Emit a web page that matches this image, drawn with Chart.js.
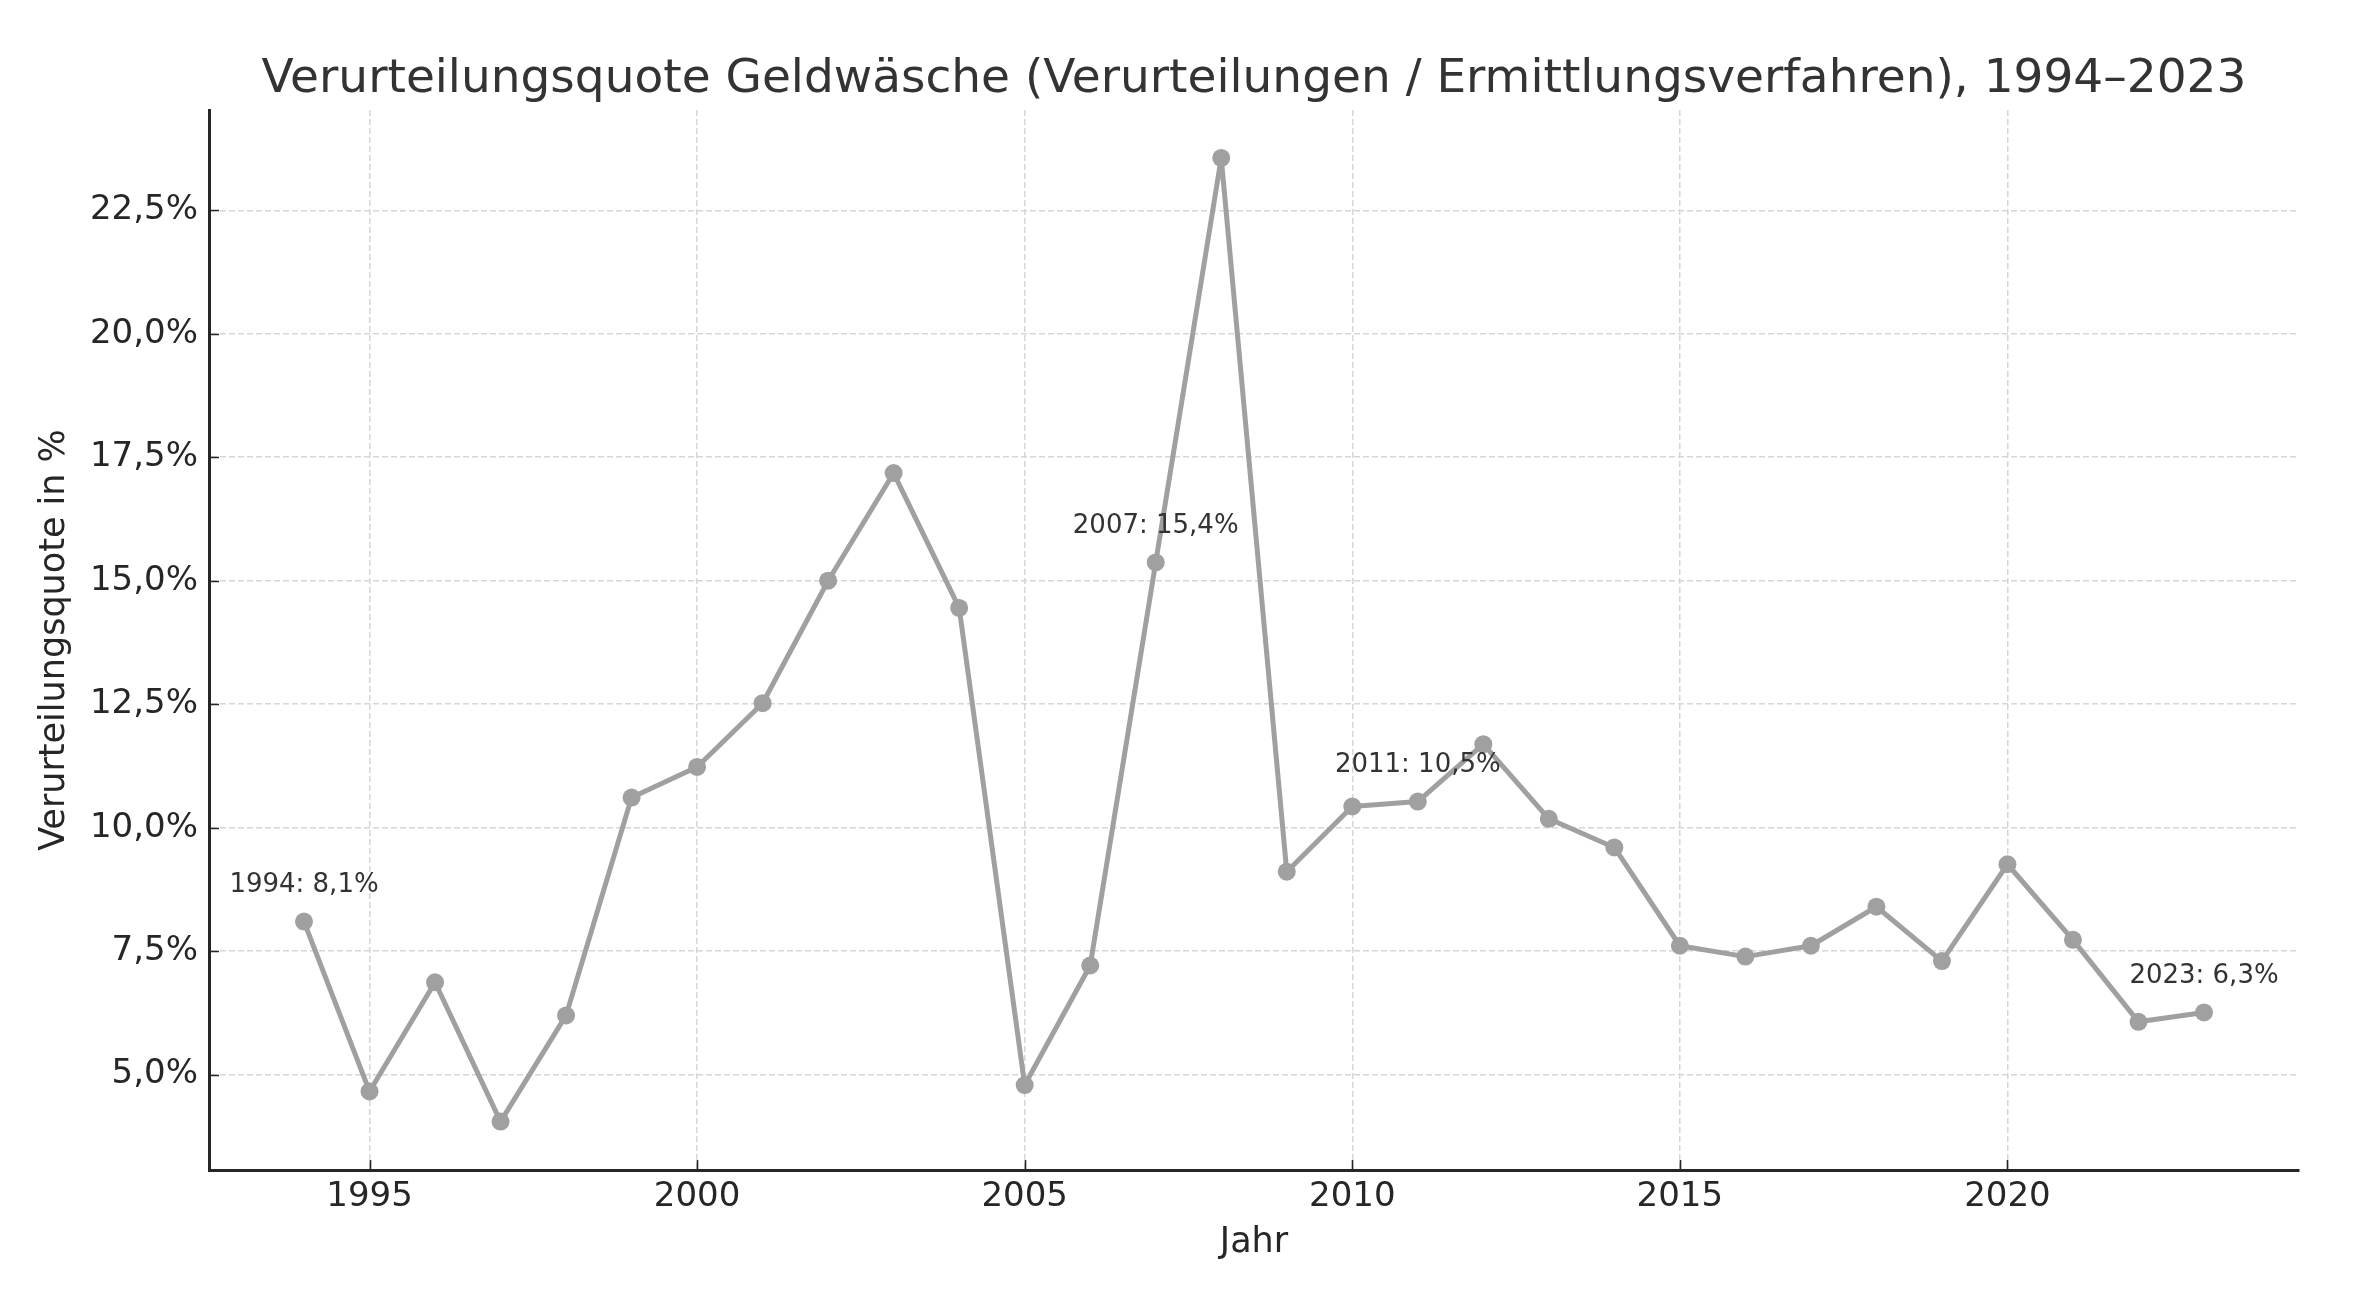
<!DOCTYPE html>
<html>
<head>
<meta charset="utf-8">
<script src="https://cdn.jsdelivr.net/npm/chart.js@4"></script>
<style>
  html, body { margin: 0; padding: 0; background: #fff; }
  canvas { display: block; }
</style>
</head>
<body>
<canvas id="chart" width="2376" height="1292"></canvas>
<script>
const years = [1994, 1995, 1996, 1997, 1998, 1999, 2000, 2001, 2002, 2003,
  2004, 2005, 2006, 2007, 2008, 2009, 2010, 2011, 2012, 2013,
  2014, 2015, 2016, 2017, 2018, 2019, 2020, 2021, 2022, 2023];
const quote = [8.10, 4.66, 6.87, 4.05, 6.20, 10.61, 11.23, 12.52, 15.00, 17.18,
  14.45, 4.79, 7.21, 15.37, 23.56, 9.11, 10.43, 10.53, 11.69, 10.18,
  9.60, 7.61, 7.39, 7.61, 8.40, 7.30, 9.26, 7.73, 6.07, 6.26];
const xTicks = [1995, 2000, 2005, 2010, 2015, 2020];
const yTicks = [5, 7.5, 10, 12.5, 15, 17.5, 20, 22.5];
const labelYears = [1994, 2007, 2011, 2023];
const titleText = 'Verurteilungsquote Geldwäsche (Verurteilungen / Ermittlungsverfahren), 1994–2023';

const fmt = v => v.toFixed(1).replace('.', ',');
const font = 'DejaVu Sans';
const gray = '#a0a0a0';

// title centred over the plot area, matplotlib-style inward ticks, value labels
const extras = {
  id: 'extras',
  afterDatasetsDraw(chart) {
    const { ctx, chartArea, scales: { x, y } } = chart;
    ctx.save();
    ctx.strokeStyle = '#262626';
    ctx.lineWidth = 1.6;
    ctx.beginPath();
    xTicks.forEach(t => {
      const px = Math.round(x.getPixelForValue(t)) + 0.5;
      ctx.moveTo(px, chartArea.bottom);
      ctx.lineTo(px, chartArea.bottom - 10);
    });
    yTicks.forEach(t => {
      const py = Math.round(y.getPixelForValue(t)) + 0.5;
      ctx.moveTo(chartArea.left, py);
      ctx.lineTo(chartArea.left + 10, py);
    });
    ctx.stroke();

    ctx.fillStyle = '#333';
    ctx.textAlign = 'center';
    ctx.textBaseline = 'middle';
    ctx.font = `47px "${font}"`;
    ctx.fillText(titleText, (chartArea.left + chartArea.right) / 2, 80);

    ctx.font = `26px "${font}"`;
    labelYears.forEach(yr => {
      const v = quote[years.indexOf(yr)];
      const px = x.getPixelForValue(yr);
      const py = y.getPixelForValue(v) - 36;
      ctx.fillText(`${yr}: ${fmt(v)}%`, px, py);
    });
    ctx.restore();
  }
};

new Chart(document.getElementById('chart').getContext('2d'), {
  type: 'line',
  data: {
    datasets: [{
      data: years.map((yr, i) => ({ x: yr, y: quote[i] })),
      borderColor: gray,
      backgroundColor: gray,
      pointBackgroundColor: gray,
      pointBorderColor: gray,
      borderWidth: 5,
      borderJoinStyle: 'round',
      borderCapStyle: 'round',
      pointRadius: 9,
      pointBorderWidth: 0,
      tension: 0,
    }],
  },
  options: {
    responsive: false,
    animation: false,
    devicePixelRatio: 1,
    layout: { padding: { left: 18, right: 77, top: 110, bottom: 0 } },
    plugins: {
      legend: { display: false },
      tooltip: { enabled: false },
      title: { display: false },
    },
    scales: {
      x: {
        type: 'linear',
        min: 1992.55,
        max: 2024.45,
        afterBuildTicks: s => { s.ticks = xTicks.map(v => ({ value: v })); },
        afterFit: s => { s.height = 122; },
        ticks: {
          color: '#262626',
          font: { family: font, size: 34 },
          padding: 7,
          callback: v => String(v),
        },
        grid: { color: '#d6d6d6', lineWidth: 1.5, drawTicks: false },
        border: { display: true, color: '#262626', width: 3, dash: [6, 3] },
        title: {
          display: true,
          text: 'Jahr',
          color: '#262626',
          font: { family: font, size: 35 },
          padding: { top: 0, bottom: 28 },
        },
      },
      y: {
        type: 'linear',
        min: 3.07,
        max: 24.53,
        afterBuildTicks: s => { s.ticks = yTicks.map(v => ({ value: v })); },
        afterFit: s => { s.width = 191; },
        ticks: {
          color: '#262626',
          font: { family: font, size: 34 },
          padding: 11,
          callback: v => fmt(v) + '%',
        },
        grid: { color: '#d6d6d6', lineWidth: 1.5, drawTicks: false },
        border: { display: true, color: '#262626', width: 3, dash: [6, 3] },
        title: {
          display: true,
          text: 'Verurteilungsquote in %',
          color: '#262626',
          font: { family: font, size: 35 },
          padding: { top: 16, bottom: 0 },
        },
      },
    },
  },
  plugins: [extras],
});
</script>
</body>
</html>
